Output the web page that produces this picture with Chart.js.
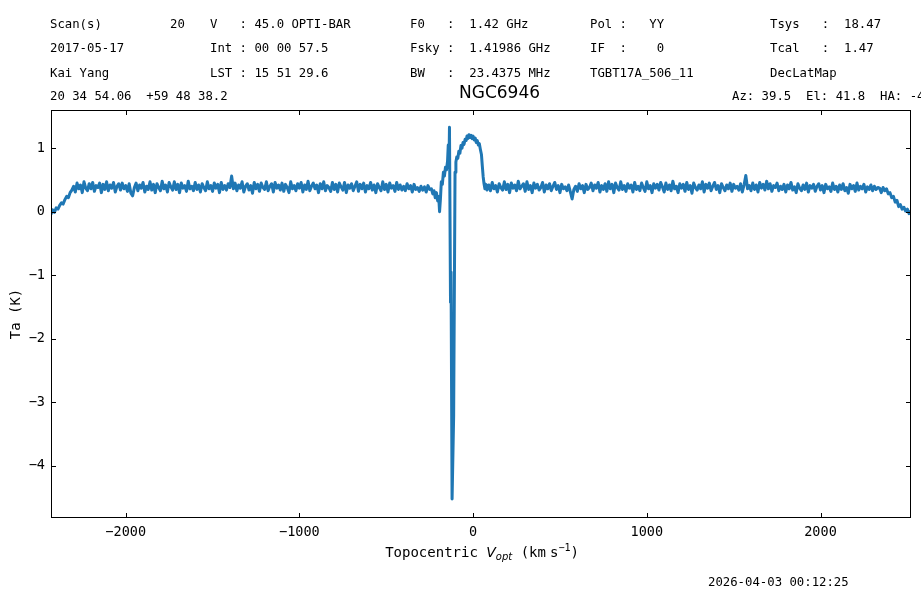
<!DOCTYPE html>
<html>
<head>
<meta charset="utf-8">
<script src="https://cdn.jsdelivr.net/npm/chart.js@4.4.0/dist/chart.umd.min.js"></script>
<style>
  html, body { margin: 0; padding: 0; background: #fff; }
  canvas { display: block; }
</style>
</head>
<body>
<canvas id="spec" width="921" height="591"></canvas>
<script>
// channel grid for the two baseline wings (km/s)
const chanStep = 10;
const leftStart = -2430;
const rightStart = 90;

// Ta (K), left wing, -2430 .. -250
const leftTa = [
  -0.04, 0.03, -0.01, 0.06, 0.04, 0.10, 0.14, 0.12, 0.19, 0.24, 0.22, 0.30, 0.34,
  0.40, 0.31, 0.45, 0.36, 0.42, 0.30, 0.47, 0.37, 0.33, 0.44,
  0.36, 0.46, 0.32, 0.41, 0.38, 0.45, 0.30, 0.43, 0.35, 0.47,
  0.33, 0.42, 0.37, 0.46, 0.31, 0.40, 0.44, 0.34, 0.45, 0.36,
  0.41, 0.32, 0.44, 0.29, 0.25, 0.38, 0.45, 0.33, 0.42, 0.37,
  0.46, 0.31, 0.40, 0.35, 0.47, 0.34, 0.43, 0.30, 0.44, 0.38,
  0.33, 0.48, 0.36, 0.42, 0.31, 0.46, 0.39, 0.34, 0.47, 0.35,
  0.43, 0.30, 0.45, 0.37, 0.41, 0.32, 0.48, 0.36, 0.40, 0.33,
  0.46, 0.35, 0.42, 0.31, 0.44, 0.38, 0.33, 0.47, 0.36, 0.41,
  0.32, 0.45, 0.37, 0.43, 0.30, 0.46, 0.35, 0.41, 0.34, 0.44,
  0.38, 0.56, 0.36, 0.45, 0.33, 0.42, 0.37, 0.47, 0.31, 0.40,
  0.44, 0.34, 0.41, 0.29, 0.46, 0.36, 0.43, 0.32, 0.45, 0.38,
  0.35, 0.47, 0.33, 0.40, 0.44, 0.31, 0.46, 0.37, 0.42, 0.34,
  0.45, 0.32, 0.43, 0.38, 0.30, 0.47, 0.36, 0.41, 0.33, 0.44,
  0.37, 0.46, 0.31, 0.42, 0.35, 0.48, 0.33, 0.40, 0.45, 0.36,
  0.42, 0.30, 0.44, 0.36, 0.47, 0.33, 0.41, 0.38, 0.32, 0.46,
  0.35, 0.43, 0.31, 0.45, 0.39, 0.34, 0.46, 0.30, 0.42, 0.37,
  0.44, 0.33, 0.40, 0.47, 0.32, 0.43, 0.36, 0.45, 0.31, 0.41,
  0.36, 0.46, 0.34, 0.42, 0.30, 0.44, 0.38, 0.33, 0.47, 0.35,
  0.43, 0.31, 0.45, 0.37, 0.41, 0.32, 0.46, 0.35, 0.42, 0.34,
  0.40, 0.33, 0.44, 0.36, 0.41, 0.31, 0.43, 0.35, 0.38, 0.32,
  0.40, 0.34, 0.39, 0.31, 0.41, 0.35
];

// line region, finer sampling
const centerVel = [
  -240, -232, -225, -218, -211, -204, -198, -193, -188, -183,
  -177, -171, -165, -159, -153, -147, -143, -139, -136, -130,
  -127, -121, -112, -104, -99, -94, -88, -82, -76, -70,
  -64, -58, -52, -46, -40, -35, -30, -24, -18, -12,
  -6, 0, 6, 12, 18, 24, 30, 36, 42, 48,
  53, 58, 63, 68, 74, 80
];
const centerTa = [
  0.36, 0.28, 0.33, 0.22, 0.30, 0.17, 0.24, 0.00, 0.20, 0.47,
  0.43, 0.62, 0.56, 0.70, 0.66, 0.80, 1.05, 0.72, 1.33, -1.43,
  -0.95, -4.52, -3.22, 0.62, 0.78, 0.86, 0.84, 0.95, 0.92, 1.04,
  1.00, 1.09, 1.06, 1.14, 1.12, 1.19, 1.15, 1.21, 1.17, 1.20,
  1.15, 1.19, 1.13, 1.16, 1.09, 1.12, 1.05, 1.07, 0.98, 0.90,
  0.72, 0.55, 0.44, 0.36, 0.43, 0.34
];

// Ta (K), right wing, 90 .. 2530
const rightTa = [
  0.42, 0.33, 0.46, 0.36, 0.41, 0.31, 0.44, 0.38, 0.34, 0.47,
  0.35, 0.43, 0.30, 0.45, 0.37, 0.42, 0.33, 0.48, 0.36, 0.40,
  0.44, 0.32, 0.47, 0.35, 0.41, 0.30, 0.45, 0.37, 0.43, 0.34,
  0.38, 0.46, 0.31, 0.42, 0.36, 0.44, 0.33, 0.40, 0.46, 0.35,
  0.41, 0.30, 0.43, 0.36, 0.39, 0.33, 0.42, 0.31, 0.20, 0.35,
  0.40, 0.32, 0.44, 0.36, 0.41, 0.30, 0.43, 0.35, 0.38, 0.45,
  0.33, 0.42, 0.37, 0.46, 0.31, 0.41, 0.35, 0.44, 0.32, 0.47,
  0.36, 0.43, 0.30, 0.45, 0.38, 0.34, 0.47, 0.35, 0.41, 0.32,
  0.44, 0.37, 0.42, 0.31, 0.46, 0.35, 0.40, 0.33, 0.45, 0.38,
  0.32, 0.47, 0.36, 0.41, 0.30, 0.44, 0.37, 0.43, 0.34, 0.46,
  0.39, 0.31, 0.45, 0.35, 0.42, 0.33, 0.48, 0.36, 0.40, 0.30,
  0.44, 0.37, 0.43, 0.32, 0.46, 0.35, 0.41, 0.29, 0.45, 0.38,
  0.34, 0.42, 0.36, 0.47, 0.31, 0.43, 0.37, 0.45, 0.33, 0.40,
  0.46, 0.35, 0.41, 0.30, 0.44, 0.38, 0.33, 0.42, 0.36, 0.45,
  0.32, 0.43, 0.37, 0.40, 0.34, 0.44, 0.31, 0.42, 0.57, 0.36,
  0.41, 0.33, 0.45, 0.35, 0.42, 0.31, 0.46, 0.37, 0.43, 0.34,
  0.48, 0.36, 0.44, 0.32, 0.41, 0.38, 0.45, 0.33, 0.40, 0.35,
  0.43, 0.31, 0.42, 0.36, 0.46, 0.34, 0.39, 0.30, 0.44, 0.37,
  0.33, 0.42, 0.35, 0.45, 0.31, 0.41, 0.37, 0.43, 0.32, 0.40,
  0.44, 0.34, 0.41, 0.30, 0.43, 0.36, 0.39, 0.32, 0.45, 0.35,
  0.40, 0.31, 0.42, 0.35, 0.44, 0.33, 0.38, 0.29, 0.43, 0.36,
  0.41, 0.32, 0.45, 0.34, 0.40, 0.36, 0.43, 0.31, 0.39, 0.35,
  0.42, 0.33, 0.40, 0.35, 0.38,
  0.37, 0.30, 0.38, 0.33, 0.36, 0.28, 0.30, 0.22, 0.24, 0.15,
  0.18, 0.08, 0.11, 0.04, 0.07, 0.01, 0.04, -0.03, 0.01, -0.02
];

const xTicks = [-2000, -1000, 0, 1000, 2000];
const yTicks = [-4, -3, -2, -1, 0, 1];

// header block
const hdrCol1 = ['Scan(s)', '2017-05-17', 'Kai Yang', '20 34 54.06  +59 48 38.2'];
const hdrScanNo = '20';
const hdrCol2 = ['V   : 45.0 OPTI-BAR', 'Int : 00 00 57.5', 'LST : 15 51 29.6'];
const hdrCol3 = ['F0   :  1.42 GHz', 'Fsky :  1.41986 GHz', 'BW   :  23.4375 MHz'];
const hdrCol4 = ['Pol :   YY', 'IF  :    0', 'TGBT17A_506_11'];
const hdrCol5 = ['Tsys   :  18.47', 'Tcal   :  1.47', 'DecLatMap'];
const sourceName = 'NGC6946';
const azElText = 'Az: 39.5  El: 41.8  HA: -4.2';
const stamp = '2026-04-03 00:12:25';

const points = [];
leftTa.forEach((t, i) => points.push({ x: leftStart + i * chanStep, y: t }));
centerVel.forEach((v, i) => points.push({ x: v, y: centerTa[i] }));
rightTa.forEach((t, i) => points.push({ x: rightStart + i * chanStep, y: t }));

const MONO = '"DejaVu Sans Mono", monospace';
const SANS = '"DejaVu Sans", sans-serif';
const minus = v => String(v).replace('-', '\u2212');

const decor = {
  id: 'decor',
  beforeDraw(chart) {
    const c = chart.ctx;
    c.save();
    c.fillStyle = '#fff';
    c.fillRect(0, 0, chart.width, chart.height);
    c.restore();
  },
  afterDraw(chart) {
    const c = chart.ctx;
    const a = chart.chartArea;
    const sx = chart.scales.x, sy = chart.scales.y;
    c.save();
    c.strokeStyle = '#000';
    c.lineWidth = 1;
    c.strokeRect(Math.round(a.left) + 0.5, Math.round(a.top) + 0.5,
      Math.round(a.right - a.left) - 1, Math.round(a.bottom - a.top) - 1);

    // inward ticks on all four sides
    const tl = 5;
    c.beginPath();
    xTicks.forEach(v => {
      const px = Math.round(sx.getPixelForValue(v)) + 0.5;
      c.moveTo(px, a.bottom); c.lineTo(px, a.bottom - tl);
      c.moveTo(px, a.top); c.lineTo(px, a.top + tl);
    });
    yTicks.forEach(v => {
      const py = Math.round(sy.getPixelForValue(v)) + 0.5;
      c.moveTo(a.left, py); c.lineTo(a.left + tl, py);
      c.moveTo(a.right, py); c.lineTo(a.right - tl, py);
    });
    c.stroke();

    // header text
    c.fillStyle = '#000';
    c.textBaseline = 'middle';
    c.textAlign = 'left';
    c.font = '12.3px ' + MONO;
    const rows = [25, 49, 74, 97];
    hdrCol1.forEach((t, i) => c.fillText(t, 50, rows[i]));
    c.fillText(hdrScanNo, 170, rows[0]);
    hdrCol2.forEach((t, i) => c.fillText(t, 210, rows[i]));
    hdrCol3.forEach((t, i) => c.fillText(t, 410, rows[i]));
    hdrCol4.forEach((t, i) => c.fillText(t, 590, rows[i]));
    hdrCol5.forEach((t, i) => c.fillText(t, 770, rows[i]));
    c.fillText(azElText, 732, 97);
    c.fillText(stamp, 708, 583);

    c.font = '17px ' + SANS;
    c.textAlign = 'center';
    c.fillText(sourceName, 499.5, 94);

    // y label
    c.save();
    c.translate(16, 314);
    c.rotate(-Math.PI / 2);
    c.font = '14px ' + MONO;
    c.textAlign = 'center';
    c.fillText('Ta (K)', 0, 0);
    c.restore();

    // x label with italic V_opt and km s^-1
    const segs = [
      { t: 'Topocentric ', f: '14px ' + MONO, dy: 0 },
      { t: 'V', f: 'italic 14px ' + SANS, dy: 0 },
      { t: 'opt', f: 'italic 10px ' + SANS, dy: 3 },
      { t: ' (km', f: '14px ' + MONO, dy: 0 },
      { t: 's', f: '14px ' + MONO, dy: 0, gap: 4 },
      { t: '\u22121', f: '10px ' + MONO, dy: -6 },
      { t: ')', f: '14px ' + MONO, dy: 0 }
    ];
    c.textAlign = 'left';
    c.textBaseline = 'alphabetic';
    let total = 0;
    segs.forEach(s => { c.font = s.f; s.w = c.measureText(s.t).width; total += s.w + (s.gap || 0); });
    let cx = 482 - total / 2;
    segs.forEach(s => {
      cx += s.gap || 0;
      c.font = s.f;
      c.fillText(s.t, cx, 557 + s.dy);
      cx += s.w;
    });
    c.restore();
  }
};

new Chart(document.getElementById('spec'), {
  type: 'line',
  data: {
    datasets: [{
      data: points,
      borderColor: '#1f77b4',
      borderWidth: 3,
      borderJoinStyle: 'round',
      borderCapStyle: 'round',
      pointRadius: 0,
      tension: 0,
      fill: false
    }]
  },
  options: {
    responsive: false,
    animation: false,
    devicePixelRatio: 1,
    layout: { padding: { top: 110, right: 10, left: 0, bottom: 0 } },
    plugins: { legend: { display: false }, tooltip: { enabled: false }, title: { display: false } },
    scales: {
      x: {
        type: 'linear',
        min: -2430,
        max: 2521,
        grid: { display: false, drawTicks: false },
        border: { display: false },
        afterBuildTicks: s => { s.ticks = xTicks.map(v => ({ value: v })); },
        afterFit: s => { s.height = 73; },
        ticks: {
          padding: 6,
          color: '#000',
          font: { family: 'DejaVu Sans Mono', size: 13.5 },
          maxRotation: 0,
          callback: v => minus(v)
        }
      },
      y: {
        type: 'linear',
        min: -4.82,
        max: 1.6,
        grid: { display: false, drawTicks: false },
        border: { display: false },
        afterBuildTicks: s => { s.ticks = yTicks.map(v => ({ value: v })); },
        afterFit: s => { s.width = 51; },
        ticks: {
          padding: 6,
          color: '#000',
          font: { family: 'DejaVu Sans Mono', size: 13.5 },
          callback: v => minus(v)
        }
      }
    }
  },
  plugins: [decor]
});
</script>
</body>
</html>
